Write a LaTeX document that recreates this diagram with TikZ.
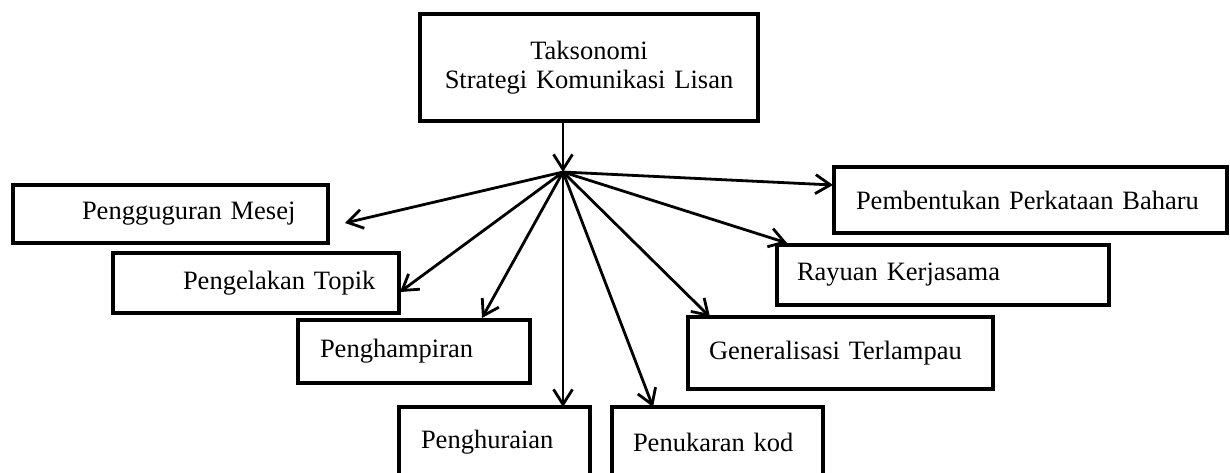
\documentclass[tikz,border=0pt]{standalone}
\usepackage{fontspec}
\setmainfont{Liberation Serif}
\usepackage{tikz}
\usetikzlibrary{arrows.meta}

\tikzset{
    kotak/.style={draw, rectangle, line width=3.2pt, anchor=north west, outer sep=0pt, inner sep=0pt,
        align=left, font=\fontsize{26.5pt}{29pt}\selectfont},
    anak/.style={line width=2.8pt, -{Straight Barb[length=15pt,width=19pt,line width=2.8pt]}}
}

\begin{document}
\begin{tikzpicture}[x=1pt,y=-1pt]
    \useasboundingbox (0,0) rectangle (1230,472);
    \node [kotak, align=center, minimum width=338pt, minimum height=107pt, text width=338pt] (taksonomi) at (420,14) {Taksonomi\hspace*{24pt}\\Strategi Komunikasi Lisan\hspace*{24pt}};
    \coordinate (hub) at (563,172);
    % kiri
    \node [kotak, minimum width=315pt, minimum height=58pt, text width=315pt] (mesej) at (13,185) {\hspace*{69pt}Pengguguran Mesej};
    \node [kotak, minimum width=286pt, minimum height=60pt, text width=286pt] (topik) at (113,253) {\hspace*{70pt}Pengelakan Topik};
    \node [kotak, minimum width=232pt, minimum height=63pt, text width=232pt] (hampir) at (298,320) {\hspace*{22pt}Penghampiran};
    \node [kotak, minimum width=191pt, minimum height=70pt, text width=191pt] (hurai) at (399,407) {\hspace*{22pt}Penghuraian};
    % kanan
    \node [kotak, line width=3.6pt, minimum width=211pt, minimum height=70pt, text width=211pt] (kod) at (612,407) {\hspace*{21pt}Penukaran kod};
    \node [kotak, minimum width=305pt, minimum height=72pt, text width=305pt] (general) at (688,317) {\hspace*{21pt}Generalisasi Terlampau};
    \node [kotak, minimum width=332pt, minimum height=60pt, text width=332pt] (rayuan) at (777,245) {\hspace*{20pt}Rayuan Kerjasama};
    \node [kotak, minimum width=393pt, minimum height=66pt, text width=393pt] (baharu) at (834,167) {\hspace*{22pt}Pembentukan Perkataan Baharu};
    \path[anak]
        (hub |- taksonomi.south) edge (hub)
        (hub) edge ([xshift=17pt,yshift=-9pt]mesej.east)
        (hub) edge ([xshift=1pt,yshift=-9pt]topik.east)
        (hub) edge ([xshift=184pt,yshift=2pt]hampir.north west)
        (hub) edge (hub |- hurai.north)
        (hub) edge ([xshift=41pt]kod.north west)
        (hub) edge ([xshift=22pt]general.north west)
        (hub) edge ([xshift=10pt,yshift=2pt]rayuan.north west)
        (hub) edge ([xshift=-1pt,yshift=15pt]baharu.west)
    ;
\end{tikzpicture}
\end{document}
